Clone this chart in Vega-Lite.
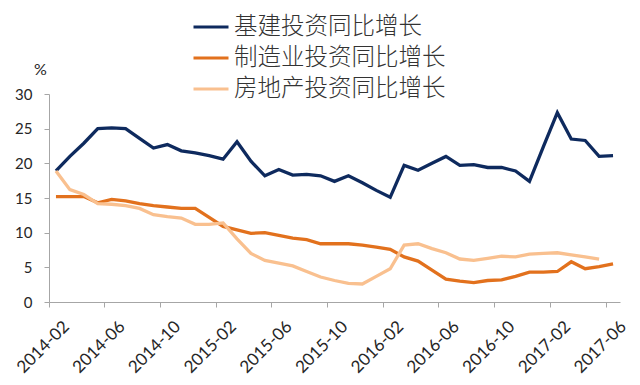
{
"$schema":"https://vega.github.io/schema/vega-lite/v6.json",
"width":571,"height":208,
"autosize":{"type":"none"},
"padding":{"left":49,"top":94,"right":20,"bottom":83},
"background":"white",
"config":{"view":{"stroke":null},"font":"Lato"},
"datasets":{
"infra":[
{"month":"2014-02","value":18.9},{"month":"2014-03","value":21.0},{"month":"2014-04","value":22.9},{"month":"2014-05","value":25.0},{"month":"2014-06","value":25.1},{"month":"2014-07","value":25.0},{"month":"2014-08","value":23.6},{"month":"2014-09","value":22.2},{"month":"2014-10","value":22.7},{"month":"2014-11","value":21.8},{"month":"2014-12","value":21.5},{"month":"2015-01","value":21.1},{"month":"2015-02","value":20.6},{"month":"2015-03","value":23.1},{"month":"2015-04","value":20.3},{"month":"2015-05","value":18.2},{"month":"2015-06","value":19.1},{"month":"2015-07","value":18.3},{"month":"2015-08","value":18.4},{"month":"2015-09","value":18.2},{"month":"2015-10","value":17.4},{"month":"2015-11","value":18.2},{"month":"2015-12","value":17.2},{"month":"2016-01","value":16.1},{"month":"2016-02","value":15.1},{"month":"2016-03","value":19.7},{"month":"2016-04","value":19.0},{"month":"2016-05","value":20.0},{"month":"2016-06","value":21.0},{"month":"2016-07","value":19.7},{"month":"2016-08","value":19.8},{"month":"2016-09","value":19.4},{"month":"2016-10","value":19.4},{"month":"2016-11","value":18.9},{"month":"2016-12","value":17.4},{"month":"2017-01","value":22.4},{"month":"2017-02","value":27.3},{"month":"2017-03","value":23.5},{"month":"2017-04","value":23.3},{"month":"2017-05","value":21.0},{"month":"2017-06","value":21.1}
],
"mfg":[
{"month":"2014-02","value":15.2},{"month":"2014-03","value":15.2},{"month":"2014-04","value":15.2},{"month":"2014-05","value":14.3},{"month":"2014-06","value":14.8},{"month":"2014-07","value":14.6},{"month":"2014-08","value":14.2},{"month":"2014-09","value":13.9},{"month":"2014-10","value":13.7},{"month":"2014-11","value":13.5},{"month":"2014-12","value":13.5},{"month":"2015-01","value":12.2},{"month":"2015-02","value":10.9},{"month":"2015-03","value":10.4},{"month":"2015-04","value":9.9},{"month":"2015-05","value":10.0},{"month":"2015-06","value":9.6},{"month":"2015-07","value":9.2},{"month":"2015-08","value":9.0},{"month":"2015-09","value":8.4},{"month":"2015-10","value":8.4},{"month":"2015-11","value":8.4},{"month":"2015-12","value":8.2},{"month":"2016-01","value":7.9},{"month":"2016-02","value":7.6},{"month":"2016-03","value":6.5},{"month":"2016-04","value":5.9},{"month":"2016-05","value":4.6},{"month":"2016-06","value":3.3},{"month":"2016-07","value":3.0},{"month":"2016-08","value":2.8},{"month":"2016-09","value":3.1},{"month":"2016-10","value":3.2},{"month":"2016-11","value":3.7},{"month":"2016-12","value":4.3},{"month":"2017-01","value":4.3},{"month":"2017-02","value":4.4},{"month":"2017-03","value":5.8},{"month":"2017-04","value":4.8},{"month":"2017-05","value":5.1},{"month":"2017-06","value":5.5}
],
"re":[
{"month":"2014-02","value":18.9},{"month":"2014-03","value":16.2},{"month":"2014-04","value":15.5},{"month":"2014-05","value":14.2},{"month":"2014-06","value":14.1},{"month":"2014-07","value":13.9},{"month":"2014-08","value":13.5},{"month":"2014-09","value":12.6},{"month":"2014-10","value":12.3},{"month":"2014-11","value":12.1},{"month":"2014-12","value":11.2},{"month":"2015-01","value":11.2},{"month":"2015-02","value":11.4},{"month":"2015-03","value":9.1},{"month":"2015-04","value":7.0},{"month":"2015-05","value":6.0},{"month":"2015-06","value":5.6},{"month":"2015-07","value":5.2},{"month":"2015-08","value":4.4},{"month":"2015-09","value":3.6},{"month":"2015-10","value":3.1},{"month":"2015-11","value":2.7},{"month":"2015-12","value":2.6},{"month":"2016-01","value":3.7},{"month":"2016-02","value":4.8},{"month":"2016-03","value":8.2},{"month":"2016-04","value":8.4},{"month":"2016-05","value":7.7},{"month":"2016-06","value":7.1},{"month":"2016-07","value":6.2},{"month":"2016-08","value":6.0},{"month":"2016-09","value":6.3},{"month":"2016-10","value":6.6},{"month":"2016-11","value":6.5},{"month":"2016-12","value":6.9},{"month":"2017-01","value":7.0},{"month":"2017-02","value":7.1},{"month":"2017-03","value":6.8},{"month":"2017-04","value":6.5},{"month":"2017-05","value":6.2}
]
},
"data":{"name":"infra"},
"transform":[
{"lookup":"month","from":{"data":{"name":"mfg"},"key":"month","fields":["value"]},"as":["mfgv"]},
{"lookup":"month","from":{"data":{"name":"re"},"key":"month","fields":["value"]},"as":["rev"]},
{"fold":["value","mfgv","rev"],"as":["key","v"]},
{"filter":"datum.v != null"}
],
"mark":{"type":"line","strokeWidth":3.3,"strokeJoin":"miter"},
"encoding":{
"x":{"field":"month","type":"ordinal","sort":"ascending",
"scale":{"type":"band","paddingInner":0,"paddingOuter":0},
"axis":{"title":null,"values":["2014-02","2014-06","2014-10","2015-02","2015-06","2015-10","2016-02","2016-06","2016-10","2017-02","2017-06"],
"bandPosition":0,"labelAngle":-45,"labelFontSize":17,"labelColor":"#262626","labelFont":"Lato","labelOffset":5,
"domainColor":"#A6A6A6","tickColor":"#A6A6A6","tickSize":5,"labelPadding":11,"grid":false}},
"y":{"field":"v","type":"quantitative",
"scale":{"domain":[0,30],"nice":false,"zero":true},
"axis":{"values":[0,5,10,15,20,25,30],"title":"%","titleAngle":0,"titleX":-9,"titleY":-25,"titleAlign":"center","titleBaseline":"middle","titleFontSize":16,"titleFontWeight":"normal","titleColor":"#262626","titleFont":"Lato",
"labelFontSize":15,"labelColor":"#262626","labelPadding":12,"labelFont":"Lato",
"domainColor":"#A6A6A6","tickColor":"#A6A6A6","tickSize":5,"grid":false}},
"color":{"field":"key","type":"nominal",
"scale":{"domain":["value","mfgv","rev"],"range":["#0E2A5E","#E2711D","#F9C08F"]},
"legend":{"orient":"none","legendX":143,"legendY":-86,"title":null,"symbolType":"stroke","symbolSize":1225,"symbolStrokeWidth":3,
"labelExpr":"datum.value=='value'?'基建投资同比增长':datum.value=='mfgv'?'制造业投资同比增长':'房地产投资同比增长'",
"labelFont":"Noto Sans CJK SC","labelFontSize":23.5,"labelFontWeight":300,"labelColor":"#333333","labelOffset":4,"labelLimit":0,"rowPadding":-1}}
}
}
